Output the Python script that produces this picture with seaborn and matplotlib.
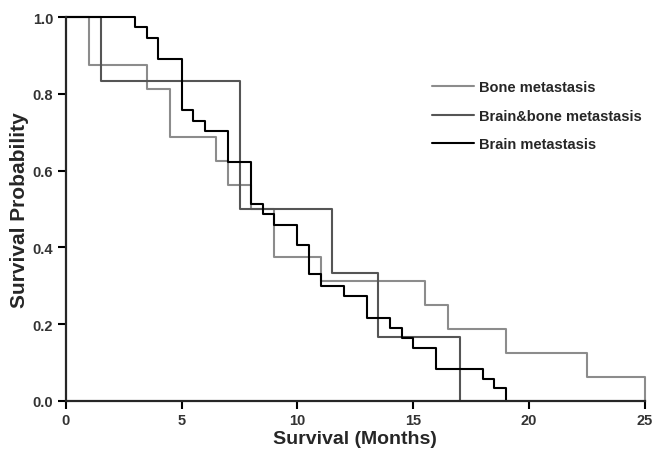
import pandas as pd
import seaborn as sns
from matplotlib import pyplot as plt

# Kaplan-Meier step values (time in months, survival)
bone_t = [0, 1.0, 3.5, 4.5, 6.5, 7.0, 8.0, 9.0, 11.0, 15.5, 16.5, 19.0, 22.5, 25.0]
bone_s = [1.0, 0.875, 0.8125, 0.6875, 0.625, 0.5625, 0.5, 0.375, 0.3125, 0.25, 0.1875, 0.125, 0.0625, 0.0]

brainbone_t = [0, 1.5, 7.5, 11.5, 13.5, 17.0]
brainbone_s = [1.0, 0.833, 0.5, 0.333, 0.167, 0.0]

brain_t = [0, 3.0, 3.5, 4.0, 5.0, 5.5, 6.0, 7.0, 8.0, 8.5, 9.0, 10.0, 10.5, 11.0,
           12.0, 13.0, 14.0, 14.5, 15.0, 16.0, 18.0, 18.5, 19.0]
brain_s = [1.0, 0.973, 0.946, 0.892, 0.757, 0.73, 0.703, 0.622, 0.514, 0.486, 0.459,
           0.405, 0.33, 0.3, 0.273, 0.215, 0.19, 0.165, 0.138, 0.083, 0.058, 0.033, 0.0]

groups = ["Bone metastasis", "Brain&bone metastasis", "Brain metastasis"]
colors = ["#8c8c8c", "#555555", "#000000"]

# long table for seaborn
frames = []
for name, t, s in zip(groups, [bone_t, brainbone_t, brain_t], [bone_s, brainbone_s, brain_s]):
    frames.append(pd.DataFrame({"time": t, "surv": s, "group": name}))
df = pd.concat(frames, ignore_index=True)

sns.set_style("ticks")
plt.rcParams["font.family"] = ["Liberation Sans", "DejaVu Sans"]

fig = plt.figure(figsize=(6.52, 4.52), dpi=100)
ax = fig.add_axes([0.101, 0.111, 0.888, 0.849])

sns.lineplot(data=df, x="time", y="surv", hue="group", hue_order=groups,
             palette=dict(zip(groups, colors)), drawstyle="steps-post",
             estimator=None, linewidth=1.5, ax=ax, clip_on=False)

ax.set_xlim(0, 25)
ax.set_ylim(0, 1.0)
ax.set_xticks([0, 5, 10, 15, 20, 25])
ax.set_yticks([0.0, 0.2, 0.4, 0.6, 0.8, 1.0])
ax.set_yticklabels(["0.0", "0.2", "0.4", "0.6", "0.8", "1.0"])
ax.tick_params(direction="out", length=6, width=1.5, labelsize=10.5, colors="black", pad=3)
for lab in ax.get_xticklabels() + ax.get_yticklabels():
    lab.set_fontweight("bold")
    lab.set_color("#333333")
sns.despine(ax=ax)
ax.spines["left"].set_linewidth(1.6)
ax.spines["bottom"].set_linewidth(1.6)

ax.set_xlabel("Survival (Months)", fontsize=14, fontweight="bold", labelpad=2)
ax.set_ylabel("Survival Probability", fontsize=15, fontweight="bold", labelpad=3)

leg = ax.legend(loc="upper left", bbox_to_anchor=(0.61, 0.87), frameon=False,
                handlelength=2.9, handletextpad=0.3, labelspacing=1.0,
                prop={"weight": "bold", "size": 10.5})
for line in leg.get_lines():
    line.set_linewidth(1.5)

fig.savefig("out.png", dpi=100)
